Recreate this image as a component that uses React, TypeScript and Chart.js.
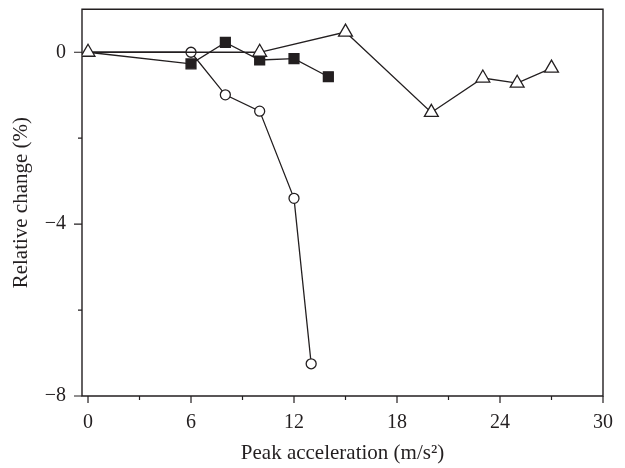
import React, { useEffect, useRef } from "react";
import { Chart, registerables } from "chart.js";

Chart.register(...registerables);

// Data
const circleX = [0, 6, 8, 10, 12, 13];
const circleY = [0, 0, -0.99, -1.37, -3.4, -7.25];
const squareX = [0, 6, 8, 10, 12, 14];
const squareY = [0, -0.27, 0.23, -0.18, -0.15, -0.57];
const triangleX = [0, 10, 15, 20, 23, 25, 27];
const triangleY = [0, 0, 0.47, -1.4, -0.6, -0.72, -0.37];

const xTickValues = [0, 3, 6, 9, 12, 15, 18, 21, 24, 27, 30];
const yTickValues = [-8, -6, -4, -2, 0];

const FONT = "'Liberation Serif', 'Times New Roman', serif";
const INK = "#231f20";

const zip = (xs: number[], ys: number[]) => xs.map((x, i) => ({ x, y: ys[i] }));

const framePlugin = {
  id: "frameAndTicks",
  beforeDatasetsDraw(chart: any) {
    const { ctx, chartArea } = chart;
    const { left, right, top, bottom } = chartArea;
    const xs = chart.scales.x;
    const ys = chart.scales.y;
    ctx.save();
    ctx.strokeStyle = INK;
    ctx.lineWidth = 1.4;
    ctx.beginPath();
    ctx.rect(left, top, right - left, bottom - top);
    ctx.stroke();
    ctx.lineWidth = 1.2;
    ctx.beginPath();
    xTickValues.forEach((v) => {
      const p = xs.getPixelForValue(v);
      const len = v % 6 === 0 ? 7 : 4;
      ctx.moveTo(p, bottom);
      ctx.lineTo(p, bottom + len);
    });
    yTickValues.forEach((v) => {
      const p = ys.getPixelForValue(v);
      const len = v % 4 === 0 ? 8 : 4;
      ctx.moveTo(left, p);
      ctx.lineTo(left - len, p);
    });
    ctx.stroke();
    ctx.restore();
  },
};

export default function App() {
  const ref = useRef<HTMLCanvasElement | null>(null);
  useEffect(() => {
    if (!ref.current) return;
    const common = {
      borderColor: INK,
      borderWidth: 1.3,
      pointBorderColor: INK,
      pointBorderWidth: 1.3,
      showLine: true,
      tension: 0,
    };
    const chart = new Chart(ref.current, {
      type: "scatter",
      data: {
        datasets: [
          {
            ...common,
            label: "triangles",
            order: 0,
            data: zip(triangleX, triangleY),
            pointStyle: "triangle",
            pointRadius: 8,
            pointBackgroundColor: "#ffffff",
          },
          {
            ...common,
            label: "circles",
            order: 1,
            data: zip(circleX, circleY),
            pointStyle: "circle",
            pointRadius: (c: any) => (c.dataIndex === 0 ? 0 : 5),
            pointBackgroundColor: "#ffffff",
          },
          {
            ...common,
            label: "squares",
            order: 2,
            data: zip(squareX, squareY),
            pointStyle: "rect",
            pointRadius: (c: any) => (c.dataIndex === 0 ? 0 : 7),
            pointBackgroundColor: INK,
          },
        ],
      },
      options: {
        animation: false,
        responsive: false,
        devicePixelRatio: 1,
        layout: { padding: { top: 8, right: 22, left: 0, bottom: 0 } },
        plugins: { legend: { display: false }, tooltip: { enabled: false } },
        scales: {
          x: {
            type: "linear",
            min: -0.35,
            max: 30,
            afterBuildTicks: (s: any) => {
              s.ticks = xTickValues.map((v) => ({ value: v }));
            },
            afterFit: (s: any) => {
              s.height = 72;
              s.paddingLeft = 0;
              s.paddingRight = 0;
            },
            grid: { display: false, drawTicks: false },
            border: { display: false },
            ticks: {
              autoSkip: false,
              maxRotation: 0,
              padding: 15,
              color: INK,
              font: { family: FONT, size: 20 },
              callback: (v: any) => (Number(v) % 6 === 0 ? String(v) : ""),
            },
            title: {
              display: true,
              text: "Peak acceleration (m/s²)",
              color: INK,
              font: { family: FONT, size: 21 },
              padding: { top: 0, bottom: 2 },
            },
          },
          y: {
            type: "linear",
            min: -8,
            max: 1,
            afterBuildTicks: (s: any) => {
              s.ticks = yTickValues.map((v) => ({ value: v }));
            },
            afterFit: (s: any) => {
              s.width = 82;
              s.paddingTop = 0;
              s.paddingBottom = 0;
            },
            grid: { display: false, drawTicks: false },
            border: { display: false },
            ticks: {
              autoSkip: false,
              padding: 16,
              color: INK,
              font: { family: FONT, size: 20 },
              callback: (v: any) => {
                const n = Number(v);
                if (n % 4 !== 0) return "";
                return n < 0 ? "\u2212" + Math.abs(n) : String(n);
              },
            },
            title: {
              display: true,
              text: "Relative change (%)",
              color: INK,
              font: { family: FONT, size: 21 },
              padding: { top: 9, bottom: 0 },
            },
          },
        },
      },
      plugins: [framePlugin],
    } as any);
    return () => chart.destroy();
  }, []);
  return (
    <div style={{ position: "absolute", left: 0, top: 0, width: 625, height: 468, background: "#fff" }}>
      <canvas ref={ref} width={625} height={468} style={{ width: 625, height: 468, display: "block" }} />
    </div>
  );
}
